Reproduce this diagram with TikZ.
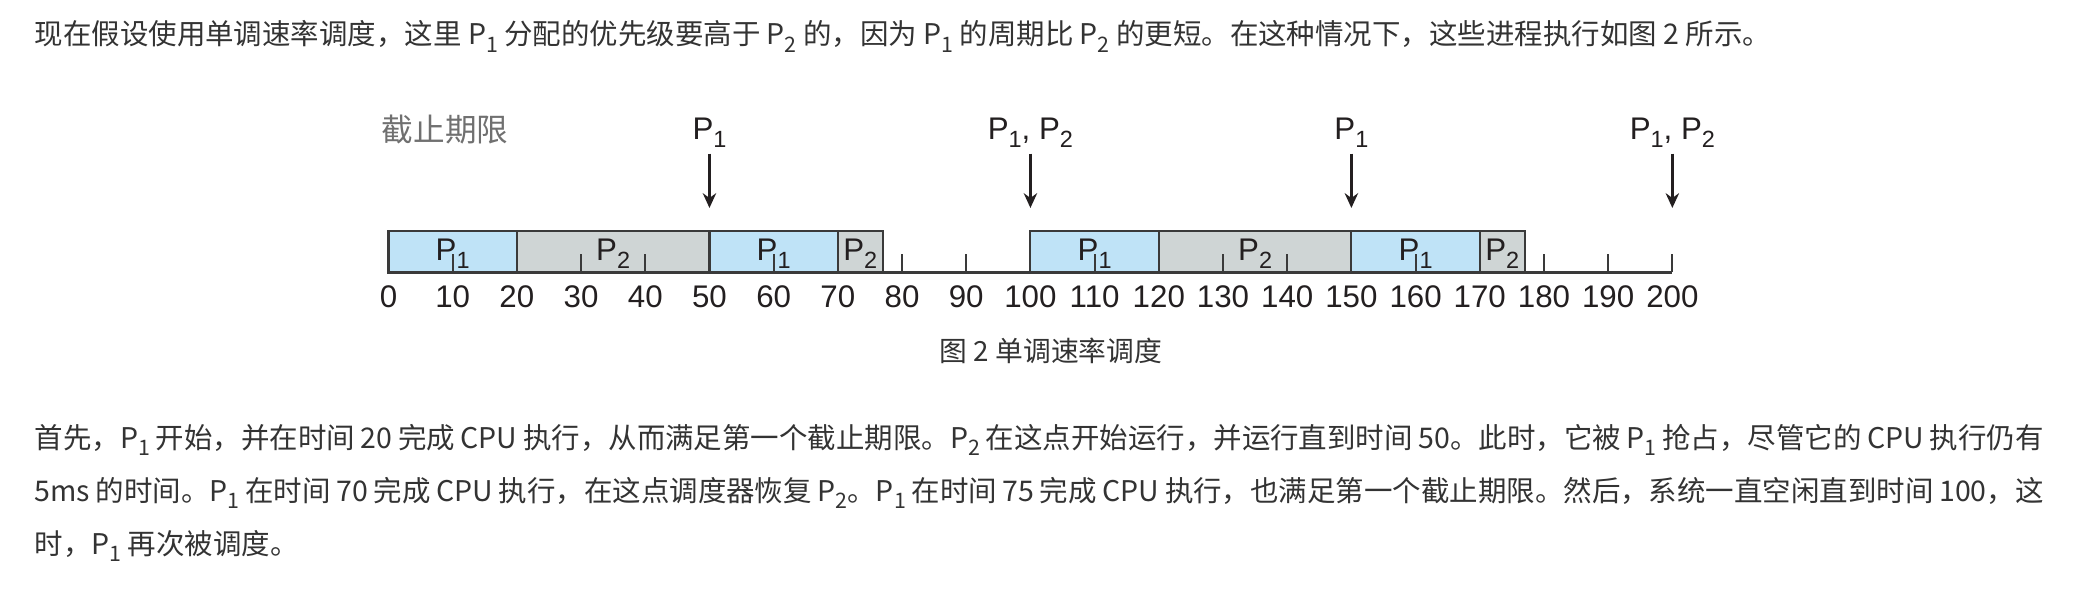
\documentclass[tikz,border=0pt]{standalone}
\usepackage{graphicx}
\usepackage{fontspec}
\setmainfont{Liberation Sans}
\newfontfamily\cjk{Noto Sans CJK SC}
\usetikzlibrary{arrows.meta}
\XeTeXlinebreaklocale "zh"
\XeTeXlinebreakskip=0pt plus 1pt

\definecolor{bodygray}{HTML}{333333}
\definecolor{figtext}{HTML}{231F20}
\definecolor{deadgray}{HTML}{707070}
\definecolor{pone}{HTML}{BFE3F7}
\definecolor{ptwo}{HTML}{CFD5D5}
\definecolor{boxline}{HTML}{3A3A3A}

\newcommand{\sbs}[1]{\raisebox{-0.5ex}{\scalebox{0.75}{#1}}}
\newcommand{\pp}[1]{P\sbs{#1}}

\tikzset{
  bodytext/.style={anchor=west, inner sep=0pt, text=bodygray, font=\cjk\fontsize{8.1}{9}\selectfont},
  onebox/.style={draw=boxline, fill=pone, line width=0.6pt},
  twobox/.style={draw=boxline, fill=ptwo, line width=0.6pt},
  boxlabel/.style={anchor=base, inner sep=0pt, text=figtext, font=\fontsize{8.9}{9}\selectfont},
  ticklabel/.style={inner sep=0pt, text=figtext, font=\fontsize{8.9}{9}\selectfont},
  tickline/.style={line width=0.6pt, boxline},
  deadlabel/.style={anchor=base, inner sep=0pt, text=figtext, font=\fontsize{8.9}{9}\selectfont},
  deadarrow/.style={-{Stealth[length=4.2pt,width=3.8pt]}, line width=1pt, figtext},
}

\begin{document}
\begin{tikzpicture}
  \fill[white] (0,0) rectangle (20.8,5.9);
  \useasboundingbox (0,0) rectangle (20.8,5.9);

  % text above and below the figure
  \node[bodytext] (intro) at (0.34,5.533) {现在假设使用单调速率调度，这里 \pp{1} 分配的优先级要高于 \pp{2} 的，因为 \pp{1} 的周期比 \pp{2} 的更短。在这种情况下，这些进程执行如图 2 所示。};
  \node[bodytext] (lineone) at (0.34,1.50) {\makebox[20.09cm][s]{首先，\pp{1} 开始，并在时间 20 完成 CPU 执行，从而满足第一个截止期限。\pp{2} 在这点开始运行，并运行直到时间 50。此时，它被 \pp{1} 抢占，尽管它的 CPU 执行仍有}};
  \node[bodytext] (linetwo) at (0.34,0.97) {\makebox[20.09cm][s]{5ms 的时间。\pp{1} 在时间 70 完成 CPU 执行，在这点调度器恢复 \pp{2}。\pp{1} 在时间 75 完成 CPU 执行，也满足第一个截止期限。然后，系统一直空闲直到时间 100，这}};
  \node[bodytext] (linethree) at (0.34,0.44) {时，\pp{1} 再次被调度。};
  \node[font=\cjk\fontsize{7.9}{9}\selectfont, text=bodygray] (caption) at (10.51,2.39) {图 2 单调速率调度};
  \node[font=\cjk\fontsize{9}{9}\selectfont, text=deadgray] (deadline) at (4.45,4.60) {截止期限};

  \begin{scope}[shift={(3.885,3.175)}, x=0.0642cm]
    % time slices
    \draw[onebox] (0,0) rectangle (20,0.415);
    \draw[twobox] (20,0) rectangle (50,0.415);
    \draw[onebox] (50,0) rectangle (70,0.415);
    \draw[twobox] (70,0) rectangle (77,0.415);
    \draw[onebox] (100,0) rectangle (120,0.415);
    \draw[twobox] (120,0) rectangle (150,0.415);
    \draw[onebox] (150,0) rectangle (170,0.415);
    \draw[twobox] (170,0) rectangle (177,0.415);
    \node[boxlabel] (sa) at (10,0.12) {\pp{1}};
    \node[boxlabel] (sb) at (35,0.12) {\pp{2}};
    \node[boxlabel] (sc) at (60,0.12) {\pp{1}};
    \node[boxlabel] (sd) at (73.5,0.12) {\pp{2}};
    \node[boxlabel] (se) at (110,0.12) {\pp{1}};
    \node[boxlabel] (sf) at (135,0.12) {\pp{2}};
    \node[boxlabel] (sg) at (160,0.12) {\pp{1}};
    \node[boxlabel] (sh) at (173.5,0.12) {\pp{2}};

    % time axis
    \foreach \t in {0,10,...,200}{
      \draw[tickline] (\t,0) -- (\t,0.18);
      \node[ticklabel] (n\t) at (\t,-0.245) {\t};
    }
    \draw[line width=1pt, boxline] (0,0) -- (200,0);

    % deadlines
    \node[deadlabel] (da) at (50,1.33) {\pp{1}};
    \node[deadlabel] (db) at (100,1.33) {\pp{1}, \pp{2}};
    \node[deadlabel] (dc) at (150,1.33) {\pp{1}};
    \node[deadlabel] (dd) at (200,1.33) {\pp{1}, \pp{2}};
    \coordinate (ta) at (50,0.645);
    \coordinate (tb) at (100,0.645);
    \coordinate (tc) at (150,0.645);
    \coordinate (td) at (200,0.645);
    \draw[deadarrow] ([yshift=-1.5pt]da.south -| ta) -- (ta);
    \draw[deadarrow] ([yshift=-1.5pt]db.south -| tb) -- (tb);
    \draw[deadarrow] ([yshift=-1.5pt]dc.south -| tc) -- (tc);
    \draw[deadarrow] ([yshift=-1.5pt]dd.south -| td) -- (td);
  \end{scope}
\end{tikzpicture}
\end{document}
